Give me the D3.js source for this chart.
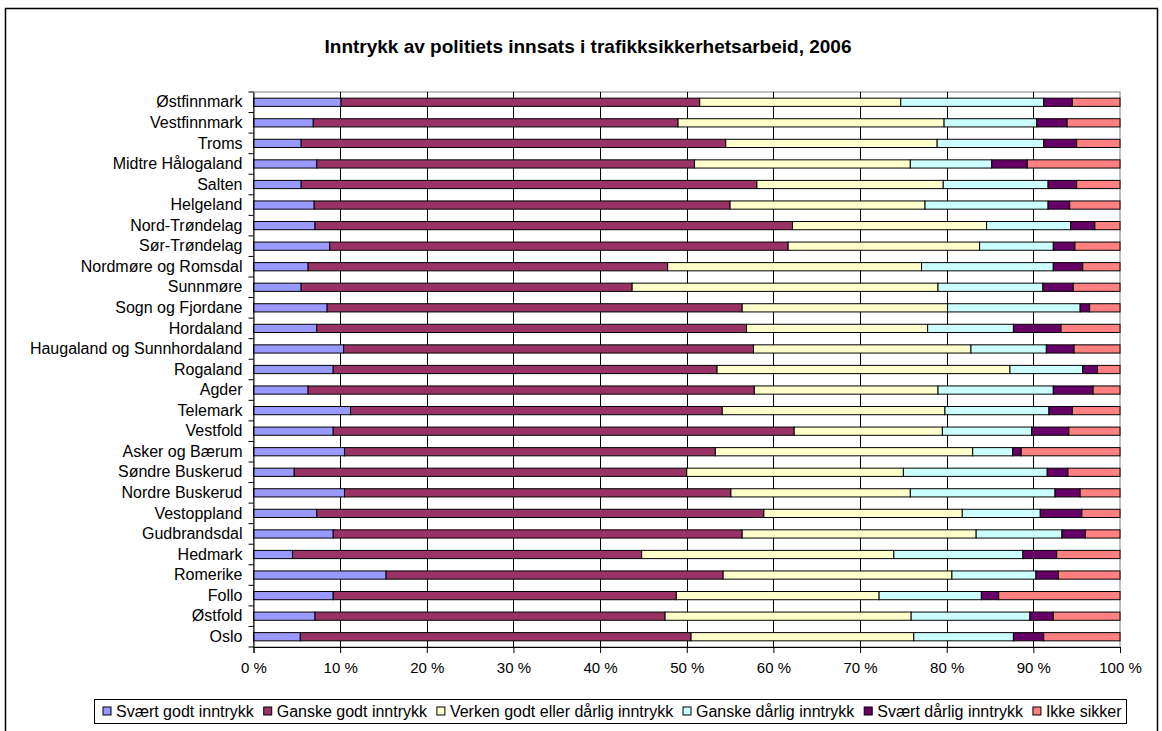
<!DOCTYPE html>
<html>
<head>
<meta charset="utf-8">
<script src="https://cdn.jsdelivr.net/npm/d3@7"></script>
<style>
  body { margin: 0; background: #fff; }
  text { font-family: "Liberation Sans", Arial, sans-serif; fill: #000; }
</style>
</head>
<body>
<svg id="chart" width="1162" height="731"></svg>
<script>
// districts, top to bottom
var districts = [
    "Østfinnmark", "Vestfinnmark", "Troms", "Midtre Hålogaland", "Salten",
    "Helgeland", "Nord-Trøndelag", "Sør-Trøndelag", "Nordmøre og Romsdal",
    "Sunnmøre", "Sogn og Fjordane", "Hordaland", "Haugaland og Sunnhordaland",
    "Rogaland", "Agder", "Telemark", "Vestfold", "Asker og Bærum",
    "Søndre Buskerud", "Nordre Buskerud", "Vestoppland", "Gudbrandsdal",
    "Hedmark", "Romerike", "Follo", "Østfold", "Oslo"
];

// shares in percent, same order as districts
var sværtGodt = [10.1, 6.9, 5.5, 7.3, 5.5, 7.0, 7.1, 8.8, 6.3, 5.5, 8.5, 7.3, 10.4, 9.2, 6.3, 11.2, 9.2, 10.5, 4.7, 10.5, 7.3, 9.2, 4.5, 15.3, 9.2, 7.1, 5.4];
var ganskeGodt = [41.4, 42.1, 49.0, 43.6, 52.6, 48.0, 55.1, 52.9, 41.5, 38.2, 47.9, 49.6, 47.3, 44.3, 51.5, 42.9, 53.2, 42.8, 45.3, 44.6, 51.6, 47.2, 40.3, 38.9, 39.6, 40.4, 45.1];
var verken = [23.2, 30.7, 24.4, 24.9, 21.5, 22.5, 22.4, 22.1, 29.3, 35.3, 23.7, 20.9, 25.1, 33.8, 21.2, 25.7, 17.1, 29.7, 25.0, 20.7, 22.9, 27.0, 29.1, 26.4, 23.4, 28.4, 25.7];
var ganskeDårlig = [16.5, 10.7, 12.3, 9.4, 12.1, 14.2, 9.7, 8.5, 15.2, 12.1, 15.3, 9.9, 8.7, 8.4, 13.3, 12.0, 10.3, 4.6, 16.6, 16.7, 9.0, 9.9, 14.9, 9.7, 11.8, 13.7, 11.5];
var sværtDårlig = [3.3, 3.5, 3.8, 4.1, 3.3, 2.5, 2.8, 2.5, 3.4, 3.5, 1.1, 5.5, 3.2, 1.7, 4.6, 2.7, 4.3, 1.0, 2.4, 2.9, 4.8, 2.7, 3.9, 2.6, 2.0, 2.7, 3.5];
var ikkeSikker = [5.5, 6.1, 5.0, 10.7, 5.0, 5.8, 2.9, 5.2, 4.3, 5.4, 3.5, 6.8, 5.3, 2.6, 3.1, 5.5, 5.9, 11.4, 6.0, 4.6, 4.4, 4.0, 7.3, 7.1, 14.0, 7.7, 8.8];

var seriesNames = [
    "Svært godt inntrykk", "Ganske godt inntrykk", "Verken godt eller dårlig inntrykk",
    "Ganske dårlig inntrykk", "Svært dårlig inntrykk", "Ikke sikker"
];
var seriesColors = ["#9999ff", "#993366", "#ffffcc", "#ccffff", "#660066", "#ff8080"];
var xTicks = [0, 10, 20, 30, 40, 50, 60, 70, 80, 90, 100];

var title = "Inntrykk av politiets innsats i trafikksikkerhetsarbeid, 2006";

// build rows for the stack
var allSeries = [sværtGodt, ganskeGodt, verken, ganskeDårlig, sværtDårlig, ikkeSikker];
var rows = districts.map(function (name, i) {
    var row = {district: name};
    var total = 0;
    allSeries.forEach(function (s) { total += s[i]; });
    seriesNames.forEach(function (key, k) {
        row[key] = allSeries[k][i] / total * 100;
    });
    return row;
});

var svg = d3.select("#chart");

// outer chart frame
svg.append("rect")
    .attr("x", 5.5).attr("y", 8.5)
    .attr("width", 1152).attr("height", 740)
    .attr("fill", "#fff")
    .attr("stroke", "#000")
    .attr("stroke-width", 1.5);

var plot = {left: 253.5, right: 1120, top: 92, bottom: 647};

var x = d3.scaleLinear()
    .domain([0, 100])
    .range([plot.left, plot.right]);

var y = d3.scaleBand()
    .domain(districts)
    .range([plot.top, plot.bottom])
    .paddingInner(0.6)
    .paddingOuter(0.3);

// title
svg.append("text")
    .attr("x", 588)
    .attr("y", 53)
    .attr("text-anchor", "middle")
    .style("font-size", "19px")
    .style("font-weight", "bold")
    .text(title);

// plot border
svg.append("rect")
    .attr("x", plot.left).attr("y", plot.top)
    .attr("width", plot.right - plot.left)
    .attr("height", plot.bottom - plot.top)
    .attr("fill", "none")
    .attr("stroke", "#808080")
    .attr("stroke-width", 1);

// vertical gridlines
svg.append("g")
    .selectAll("line")
    .data(xTicks.slice(1, -1))
    .enter().append("line")
    .attr("x1", function (d) { return Math.round(x(d)) + 0.5; })
    .attr("x2", function (d) { return Math.round(x(d)) + 0.5; })
    .attr("y1", plot.top)
    .attr("y2", plot.bottom)
    .attr("stroke", "#000")
    .attr("stroke-width", 1);

// stacked bars
var stack = d3.stack().keys(seriesNames);
var layers = stack(rows);

svg.append("g")
    .selectAll("g")
    .data(layers)
    .enter().append("g")
    .attr("fill", function (d, i) { return seriesColors[i]; })
    .selectAll("rect")
    .data(function (d) { return d; })
    .enter().append("rect")
    .attr("x", function (d) { return x(d[0]); })
    .attr("y", function (d) { return y(d.data.district); })
    .attr("width", function (d) { return x(d[1]) - x(d[0]); })
    .attr("height", y.bandwidth())
    .attr("stroke", "#000")
    .attr("stroke-width", 1);

// x axis
var xAxis = svg.append("g")
    .attr("transform", "translate(0," + plot.bottom + ")")
    .call(d3.axisBottom(x)
        .tickValues(xTicks)
        .tickSize(6)
        .tickPadding(9)
        .tickFormat(function (d) { return d + " %"; }));
xAxis.select(".domain").attr("stroke", "#000");
xAxis.selectAll(".tick line").attr("stroke", "#000");
xAxis.selectAll("text")
    .style("font-size", "15px")
    .style("font-family", "'Liberation Sans', Arial, sans-serif");

// y axis
var yAxis = svg.append("g")
    .attr("transform", "translate(" + plot.left + ",0)")
    .call(d3.axisLeft(y).tickSize(0).tickPadding(11));
yAxis.select(".domain").attr("stroke", "#000");
yAxis.selectAll("text")
    .style("font-size", "16px")
    .style("font-family", "'Liberation Sans', Arial, sans-serif");

// category separator ticks
svg.append("g")
    .selectAll("line")
    .data(d3.range(districts.length + 1))
    .enter().append("line")
    .attr("x1", plot.left - 5)
    .attr("x2", plot.left)
    .attr("y1", function (i) { return plot.top + i * (plot.bottom - plot.top) / districts.length; })
    .attr("y2", function (i) { return plot.top + i * (plot.bottom - plot.top) / districts.length; })
    .attr("stroke", "#000");

// legend
var legendBox = {left: 94.5, right: 1126.5, top: 699.5, height: 24};
var legend = svg.append("g");
legend.append("rect")
    .attr("x", legendBox.left).attr("y", legendBox.top)
    .attr("width", legendBox.right - legendBox.left).attr("height", legendBox.height)
    .attr("fill", "#fff")
    .attr("stroke", "#000");

var items = seriesNames.map(function (name, i) {
    var g = legend.append("g");
    g.append("rect")
        .attr("width", 8).attr("height", 8)
        .attr("fill", seriesColors[i])
        .attr("stroke", "#000");
    var t = g.append("text")
        .attr("x", 13)
        .attr("y", 9.5)
        .style("font-size", "16px")
        .text(name);
    return {g: g, w: 13 + t.node().getComputedTextLength()};
});
// spread items so they fill the box
var startX = legendBox.left + 8.5, endX = legendBox.right - 5;
var used = d3.sum(items, function (d) { return d.w; });
var gap = (endX - startX - used) / (items.length - 1);
var lx = startX;
items.forEach(function (it) {
    it.g.attr("transform", "translate(" + lx + ",707)");
    lx += it.w + gap;
});
</script>
</body>
</html>
